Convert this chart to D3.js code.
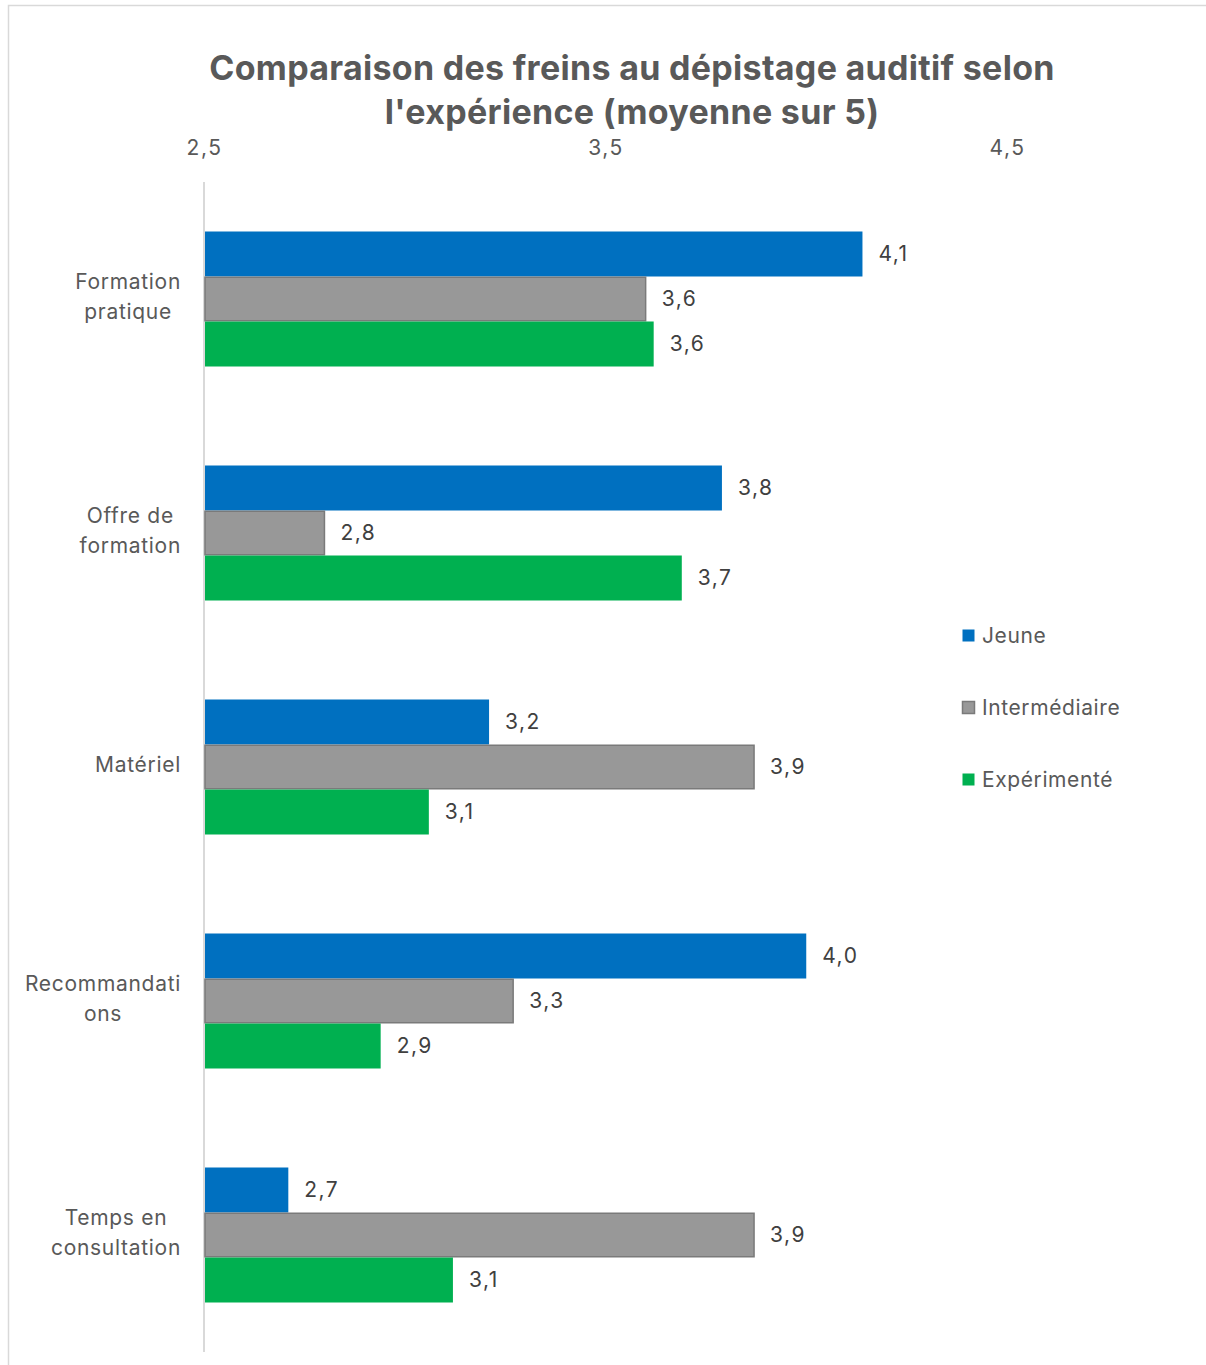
<!DOCTYPE html>
<html><head><meta charset="utf-8">
<script src="https://cdn.jsdelivr.net/npm/d3@7"></script>
<style>body{margin:0;background:#fff;} svg{display:block;}</style>
</head><body>
<svg id="chart" width="1206" height="1365"></svg>
<script>
const categories = ["Formation pratique","Offre de formation","Matériel","Recommandations","Temps en consultation"];
const categoryLines = [["Formation","pratique"],["Offre de","formation"],["Matériel"],["Recommandati","ons"],["Temps en","consultation"]];
const seriesNames = ["Jeune","Intermédiaire","Expérimenté"];
const jeune = [4.14, 3.79, 3.21, 4.00, 2.71];
const intermediaire = [3.60, 2.80, 3.87, 3.27, 3.87];
const experimente = [3.62, 3.69, 3.06, 2.94, 3.12];
const tickValues = [2.5, 3.5, 4.5];
const titleLines = ["Comparaison des freins au dépistage auditif selon","l'expérience (moyenne sur 5)"];

const colors = ["#0070C0","#989898","#00B050"];
const strokes = ["none","#7a7a7a","none"];
const seriesData = [jeune, intermediaire, experimente];
const FONT = "Inter, 'Open Sans', sans-serif";
const fmt = v => d3.format(".1f")(v).replace(".", ",");

const svg = d3.select("#chart");
svg.append("rect").attr("x",8.5).attr("y",5.5).attr("width",1220).attr("height",1380)
  .attr("fill","#fff").attr("stroke","#d9d9d9").attr("stroke-width",1.5);

const x = d3.scaleLinear().domain([2.5,4.5]).range([204,1007]);
const y0 = d3.scaleBand().domain(categories).range([182,1352]).paddingInner(99/234).paddingOuter(99/468);
const y1 = d3.scaleBand().domain(seriesNames).range([0,y0.bandwidth()]);

// title
svg.append("text").attr("x",632).attr("y",80).attr("text-anchor","middle")
  .style("font-family",FONT).style("font-weight","700").style("font-size","34px")
  .style("letter-spacing","0.3px").attr("fill","#595959")
  .selectAll("tspan").data(titleLines).join("tspan").attr("x",632).attr("dy",(d,i)=>i?44:0).text(d=>d);

// top axis
const axis = d3.axisTop(x).tickValues(tickValues).tickFormat(fmt).tickSize(0).tickPadding(0);
const ag = svg.append("g").attr("transform","translate(0,155)").call(axis);
ag.select(".domain").remove();
ag.selectAll("text").style("font-family",FONT).style("font-size","21px")
  .style("letter-spacing","1.5px").attr("fill","#595959");

// vertical axis line
svg.append("line").attr("x1",x(2.5)).attr("x2",x(2.5)).attr("y1",182).attr("y2",1352)
  .attr("stroke","#d9d9d9").attr("stroke-width",2);

// bars
const groups = svg.selectAll("g.cat").data(categories).join("g").attr("class","cat")
  .attr("transform",d=>`translate(0,${y0(d)})`);
groups.each(function(cat, ci){
  const g = d3.select(this);
  seriesNames.forEach((s, si) => {
    const v = seriesData[si][ci];
    g.append("rect").attr("x",x(2.5)+1).attr("y",y1(s)+(si===1?0.75:0))
      .attr("width",x(v)-x(2.5)-1).attr("height",y1.bandwidth()-(si===1?1.5:0))
      .attr("fill",colors[si]).attr("stroke",strokes[si]).attr("stroke-width",1.5);
    g.append("text").attr("x",x(v)+16).attr("y",y1(s)+y1.bandwidth()/2).attr("dy","0.35em")
      .style("font-family",FONT).style("font-size","21px").style("letter-spacing","1.5px")
      .attr("fill","#404040").text(fmt(v));
  });
});

// category labels
categories.forEach((cat, ci) => {
  const lines = categoryLines[ci];
  const cy = y0(cat) + y0.bandwidth()/2 - 2;
  const t = svg.append("text").style("font-family",FONT).style("font-size","21px")
    .style("letter-spacing","0.7px").attr("fill","#595959");
  const lh = 30;
  lines.forEach((l, li) => {
    t.append("tspan").attr("y", cy + (li - (lines.length-1)/2)*lh).attr("dy","0.35em").text(l);
  });
  let maxW = 0;
  t.selectAll("tspan").each(function(){ maxW = Math.max(maxW, this.getComputedTextLength()); });
  const cx = 181 - maxW/2;
  t.attr("text-anchor","middle").selectAll("tspan").attr("x",cx);
});

// legend
const legendY = [636, 708, 780];
seriesNames.forEach((s, si) => {
  svg.append("rect").attr("x",962.5).attr("y",legendY[si]-6.5).attr("width",12).attr("height",12)
    .attr("fill",colors[si]).attr("stroke",si===1?"#7a7a7a":"none").attr("stroke-width",1.5);
  svg.append("text").attr("x",982).attr("y",legendY[si]).attr("dy","0.35em")
    .style("font-family",FONT).style("font-size","21px").style("letter-spacing","0.6px")
    .attr("fill","#595959").text(s);
});
</script>
</body></html>
